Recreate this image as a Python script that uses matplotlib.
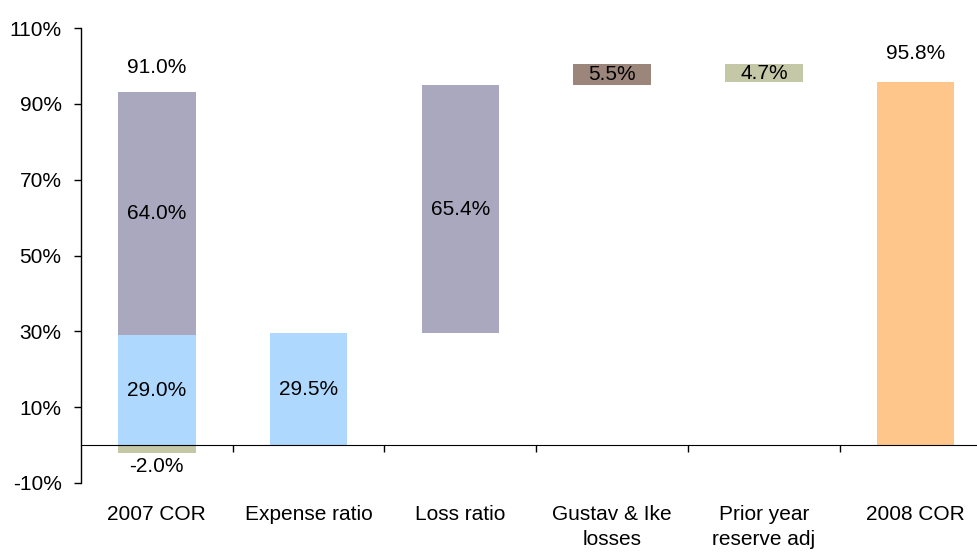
import matplotlib
matplotlib.use("Agg")
import matplotlib.pyplot as plt
import numpy as np

plt.rcParams['font.family'] = ['Liberation Sans', 'DejaVu Sans']

# Combined-ratio walk, 2007 -> 2008 (percent of premium)
categories = ['2007 COR', 'Expense ratio', 'Loss ratio',
              'Gustav & Ike\nlosses', 'Prior year\nreserve adj', '2008 COR']

cor07_other = -2.0
cor07_expense = 29.0
cor07_loss = 64.0
cor07_total = 91.0

expense_08 = 29.5
loss_08 = 65.4
gustav_ike = 5.5
prior_year = -4.7
cor08_total = 95.8

yticks = [-10, 10, 30, 50, 70, 90, 110]

c_loss = '#AAA8BF'
c_expense = '#AED8FE'
c_other = '#C4C8A6'
c_cat = '#9C857B'
c_prior = '#C4C8A6'
c_total = '#FFC68C'

fig = plt.figure(figsize=(9.78, 5.54), dpi=100)
ax = fig.add_axes([81 / 978, 1 - 483 / 554, (991.5 - 81) / 978, (483 - 28) / 554])

x = np.arange(len(categories))
w = 0.51
fs = 15

# 2007 stacked components
ax.bar(x[0], cor07_other, w, bottom=0, color=c_other, zorder=2)
ax.bar(x[0], cor07_expense, w, bottom=0, color=c_expense, zorder=2)
ax.bar(x[0], cor07_loss, w, bottom=cor07_expense, color=c_loss, zorder=2)

# 2008 build-up
base_loss = expense_08
base_cat = expense_08 + loss_08
base_prior = base_cat + gustav_ike
ax.bar(x[1], expense_08, w, bottom=0, color=c_expense, zorder=2)
ax.bar(x[2], loss_08, w, bottom=base_loss, color=c_loss, zorder=2)
ax.bar(x[3], gustav_ike, w, bottom=base_cat, color=c_cat, zorder=2)
ax.bar(x[4], prior_year, w, bottom=base_prior, color=c_prior, zorder=2)
ax.bar(x[5], cor08_total, w, bottom=0, color=c_total, zorder=2)

def pct(v):
    return f'{v:.1f}%'

# value labels
ax.text(x[0], cor07_expense + cor07_loss + 6.5, pct(cor07_total), ha='center', va='center', fontsize=fs)
ax.text(x[0], cor07_expense + cor07_loss / 2, pct(cor07_loss), ha='center', va='center', fontsize=fs)
ax.text(x[0], cor07_expense / 2, pct(cor07_expense), ha='center', va='center', fontsize=fs)
ax.annotate(pct(cor07_other), (x[0], cor07_other), xytext=(0, -3), textcoords='offset points',
            ha='center', va='top', fontsize=fs)
ax.text(x[1], expense_08 / 2, pct(expense_08), ha='center', va='center', fontsize=fs)
ax.text(x[2], base_loss + loss_08 / 2, pct(loss_08), ha='center', va='center', fontsize=fs)
ax.text(x[3], base_cat + gustav_ike / 2, pct(gustav_ike), ha='center', va='center', fontsize=fs)
ax.text(x[4], base_prior + prior_year / 2, pct(abs(prior_year)), ha='center', va='center', fontsize=fs)
ax.text(x[5], cor08_total + 7.5, pct(cor08_total), ha='center', va='center', fontsize=fs)

ax.set_xlim(-0.5, len(categories) - 0.5)
ax.set_ylim(-10, 110)
ax.set_yticks(yticks)
ax.set_yticklabels([f'{t}%' for t in yticks], fontsize=fs)
ax.tick_params(axis='y', direction='out', length=5, width=1, pad=9)

for s in ['top', 'right']:
    ax.spines[s].set_visible(False)
ax.spines['bottom'].set_position(('data', 0))
ax.spines['bottom'].set_zorder(3)
ax.spines['left'].set_linewidth(1)

ax.set_xticks(x)
ax.set_xticklabels(categories, fontsize=fs, linespacing=1.4)
ax.set_xticks(x[:-1] + 0.5, minor=True)
ax.tick_params(axis='x', which='major', length=0, pad=43)
ax.tick_params(axis='x', which='minor', direction='out', length=5, width=1)

fig.savefig('out.png', dpi=100)
